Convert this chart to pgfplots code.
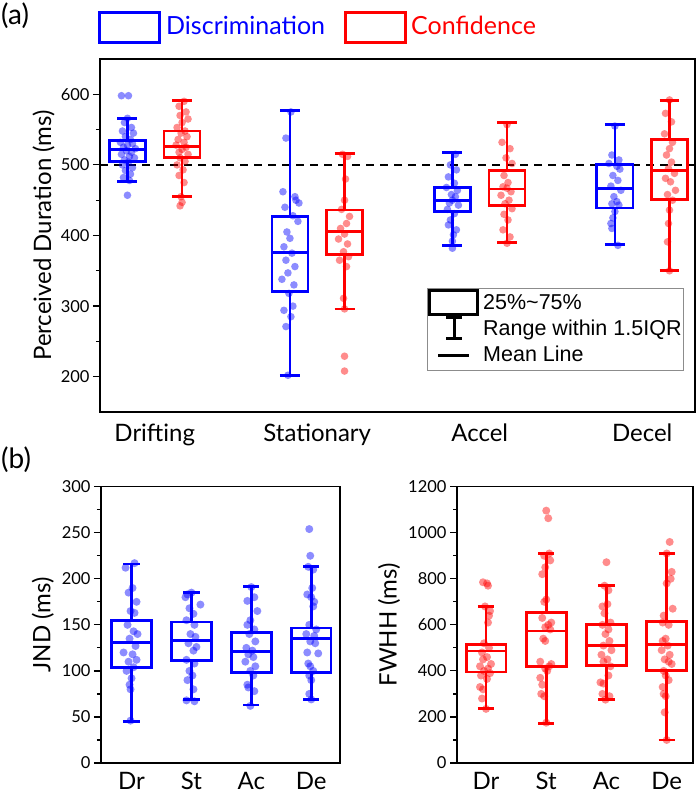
\documentclass[border=0pt]{standalone}
\usepackage{fontspec}
\setmainfont{Lato}
\newfontfamily\arialfont{Liberation Sans}
\usepackage{pgfplots}
\pgfplotsset{compat=1.18}
\definecolor{cb}{RGB}{0,0,255}
\definecolor{cr}{RGB}{255,0,0}
\pgfplotsset{
  base/.style={
    scale only axis,
    axis line style={line width=1.3pt, black},
    tick style={line width=1.2pt, black},
    tick align=outside,
    major tick length=7pt,
    minor tick length=4pt,
    ytick pos=left,
    xtick pos=bottom,
    major x tick style={draw=none},
    /pgf/number format/assume math mode=true,
    /pgf/number format/1000 sep={},
    yticklabel style={font=\fontsize{16.5}{19}\selectfont},
    xticklabel style={font=\fontsize{24}{28}\selectfont, anchor=base, inner ysep=0pt, yshift=-22.7pt},
    minor y tick num=1,
  },
  lowlab/.style={xticklabel style={yshift=3.2pt}},
  bdot/.style={only marks, mark=*, mark size=#1, mark options={draw=cb, fill=cb, fill opacity=0.45, draw opacity=0}},
  rdot/.style={only marks, mark=*, mark size=#1, mark options={draw=cr, fill=cr, fill opacity=0.45, draw opacity=0}},
  bl/.style={draw=#1, line width=2.8pt, mark=none},
}
% #1 style, #2 centre, #3 px per unit, #4 data
\newcommand{\jit}[4]{\addplot[#1] table[row sep=\\, x expr=#2+\thisrow{j}/#3, y=v] {#4};}
% box: #1 colour, #2 left, #3 right, #4 lq, #5 median, #6 uq
\newcommand{\boxm}[6]{%
  \addplot[bl=#1, line cap=rect] coordinates {(#2,#4) (#3,#4) (#3,#6) (#2,#6) (#2,#4)};
  \addplot[bl=#1] coordinates {(#2,#5) (#3,#5)};}
% whiskers: #1 colour, #2 centre, #3 cap left, #4 cap right, #5 lw, #6 lq, #7 uq, #8 uw
\newcommand{\whm}[8]{%
  \addplot[bl=#1] coordinates {(#2,#6) (#2,#5)};
  \addplot[bl=#1] coordinates {(#2,#7) (#2,#8)};
  \addplot[bl=#1] coordinates {(#3,#5) (#4,#5)};
  \addplot[bl=#1] coordinates {(#3,#8) (#4,#8)};}
\begin{document}
\begin{tikzpicture}
\path[use as bounding box] (0pt,0pt) rectangle (700pt,796pt);

% ---------------- panel (a)
\begin{axis}[base, at={(100pt,384pt)}, anchor=south west, width=595pt, height=353pt,
  xmin=0.663, xmax=4.325, ymin=150, ymax=650,
  ytick={200,300,400,500,600},
  xtick={1,2,3,4}, xticklabels={Drifting,Stationary,Accel,Decel},
  ylabel={Perceived Duration (ms)},
  every axis y label/.style={at={(axis description cs:-0.095,0.5)}, rotate=90, anchor=center, font=\fontsize{24}{28}\selectfont},
]
\addplot[black, line width=1.8pt, dash pattern=on 8pt off 6pt] coordinates {(0.663,500) (4.325,500)};
\jit{bdot=3.8pt}{0.832}{162.5}{j v\\ -6 598\\ 1 598\\ 0 566\\ -3 560\\ 4 553\\ -5 548\\ 6 545\\ -2 540\\ 3 536\\ -7 532\\ 5 530\\ 0 528\\ -4 525\\ 8 523\\ -1 520\\ 4 518\\ -6 515\\ 2 512\\ 7 510\\ -3 507\\ 1 504\\ -5 500\\ 5 496\\ -2 492\\ 3 487\\ -4 482\\ 2 478\\ 0 457\\}
\jit{rdot=3.8pt}{1.168}{162.5}{j v\\ 2 590\\ -3 583\\ 4 575\\ -2 570\\ 6 565\\ 0 560\\ -5 553\\ 3 548\\ -1 545\\ 5 540\\ -4 536\\ 2 532\\ -6 528\\ 4 525\\ 0 522\\ -3 518\\ 6 515\\ -2 510\\ 3 505\\ -5 500\\ 1 493\\ -3 485\\ 2 475\\ -1 455\\ 0 447\\ -2 442\\}
\jit{bdot=3.8pt}{1.832}{162.5}{j v\\ 1 575\\ -4 538\\ -7 462\\ 5 455\\ 6 450\\ 9 446\\ -5 440\\ 3 428\\ 8 420\\ -3 405\\ 0 396\\ -6 384\\ 2 375\\ -4 365\\ 5 356\\ -2 347\\ -8 338\\ 4 330\\ -1 318\\ 3 300\\ -6 294\\ 1 285\\ -4 271\\ -2 202\\}
\jit{rdot=3.8pt}{2.168}{162.5}{j v\\ -2 515\\ 3 512\\ 1 480\\ 0 450\\ -3 437\\ 5 427\\ 2 417\\ -4 410\\ 0 402\\ -6 395\\ 3 388\\ -1 377\\ 4 370\\ -5 365\\ 2 356\\ -1 311\\ 0 296\\ 0 229\\ 0 208\\}
\jit{bdot=3.8pt}{2.832}{162.5}{j v\\ 3 515\\ -2 500\\ 4 493\\ -4 483\\ 2 474\\ -6 468\\ 5 464\\ -1 458\\ 3 455\\ 0 450\\ -3 446\\ 6 443\\ -5 437\\ 2 431\\ -2 422\\ -4 415\\ 4 408\\ 1 401\\ 0 392\\ 0 382\\}
\jit{rdot=3.8pt}{3.168}{162.5}{j v\\ 0 557\\ -5 532\\ 3 523\\ -1 510\\ 5 502\\ -3 485\\ 1 475\\ -4 469\\ 0 467\\ 4 462\\ -6 457\\ 2 450\\ -2 445\\ 5 438\\ -3 430\\ 1 422\\ -4 408\\ 3 398\\ 0 389\\}
\jit{bdot=3.8pt}{3.832}{162.5}{j v\\ 0 555\\ -3 514\\ 4 507\\ -6 502\\ 2 498\\ 5 494\\ -2 485\\ 3 478\\ -4 470\\ 6 464\\ -1 455\\ 2 448\\ -3 445\\ 4 443\\ 0 434\\ -2 425\\ -4 417\\ -3 410\\ 3 386\\}
\jit{rdot=3.8pt}{4.168}{162.5}{j v\\ 0 592\\ -4 573\\ 2 561\\ -5 544\\ 3 532\\ 0 523\\ -3 514\\ 2 504\\ -1 495\\ 5 488\\ -4 481\\ 1 476\\ 6 464\\ -2 458\\ 3 450\\ 0 436\\ -1 417\\ -2 391\\ 0 350\\}
\boxm{cb}{0.721}{0.943}{505}{522}{535}
\whm{cb}{0.832}{0.7705}{0.8935}{476}{505}{535}{566}
\boxm{cr}{1.057}{1.279}{510}{526}{548}
\whm{cr}{1.168}{1.1065}{1.2295}{455}{510}{548}{591}
\boxm{cb}{1.721}{1.943}{321}{376}{427}
\whm{cb}{1.832}{1.7705}{1.8935}{202}{321}{427}{577}
\boxm{cr}{2.057}{2.279}{373}{406}{436}
\whm{cr}{2.168}{2.1065}{2.2295}{296}{373}{436}{516}
\boxm{cb}{2.721}{2.943}{434}{450}{468}
\whm{cb}{2.832}{2.7705}{2.8935}{386}{434}{468}{518}
\boxm{cr}{3.057}{3.279}{443}{466}{491.5}
\whm{cr}{3.168}{3.1065}{3.2295}{390}{443}{491.5}{560}
\boxm{cb}{3.721}{3.943}{439}{467}{500}
\whm{cb}{3.832}{3.7705}{3.8935}{387}{439}{500}{557}
\boxm{cr}{4.057}{4.279}{451.5}{491.5}{536}
\whm{cr}{4.168}{4.1065}{4.2295}{350}{451.5}{536}{591}
\end{axis}

% ---------------- panel (b) left
\begin{axis}[base, lowlab, at={(101pt,33pt)}, anchor=south west, width=239pt, height=276.3pt,
  xmin=0.49, xmax=4.48, ymin=0, ymax=300,
  ytick={0,50,...,300},
  xtick={1,2,3,4}, xticklabels={Dr,St,Ac,De},
  ylabel={JND (ms)},
  every axis y label/.style={at={(axis description cs:-0.243,0.5)}, rotate=90, anchor=center, font=\fontsize{24}{28}\selectfont},
]
\jit{bdot=4pt}{1}{60}{j v\\ 3 217\\ -6 212\\ 1 190\\ -3 185\\ 5 175\\ -1 165\\ 3 163\\ -4 150\\ 2 143\\ 6 140\\ -2 135\\ 4 127\\ -8 120\\ 1 118\\ 5 112\\ -3 110\\ 2 104\\ -5 100\\ 0 92\\ -2 85\\ -1 80\\ -1 46\\}
\jit{bdot=4pt}{2}{60}{j v\\ 0 185\\ -4 183\\ -6 180\\ 9 172\\ -2 168\\ 2 162\\ -5 155\\ 3 150\\ -1 140\\ 4 137\\ -3 130\\ 5 126\\ 2 122\\ -5 112\\ 3 108\\ -2 100\\ 1 95\\ -4 90\\ 2 80\\ -5 68\\ 3 67\\}
\jit{bdot=4pt}{3}{60}{j v\\ 0 191\\ 3 180\\ -4 176\\ 6 165\\ -1 155\\ -4 150\\ 3 145\\ -2 140\\ 4 132\\ -5 125\\ 1 122\\ -3 118\\ 2 115\\ -6 110\\ 4 105\\ -1 100\\ 2 95\\ -4 85\\ -3 82\\ 3 78\\ -1 62\\}
\jit{bdot=4pt}{4}{60}{j v\\ -2 254\\ -1 225\\ -3 213\\ 2 210\\ 1 190\\ -4 183\\ 0 180\\ 3 175\\ 2 170\\ -2 150\\ 5 145\\ -5 140\\ 3 138\\ -1 132\\ 4 130\\ -4 120\\ 7 119\\ -3 108\\ -1 105\\ 2 100\\ -2 95\\ 0 90\\ -2 75\\ 0 69\\}
\boxm{cb}{0.67}{1.33}{104}{131}{155}
\whm{cb}{1}{0.865}{1.135}{45}{104}{155}{216}
\boxm{cb}{1.67}{2.33}{111}{133}{153}
\whm{cb}{2}{1.865}{2.135}{68.6}{111}{153}{185}
\boxm{cb}{2.67}{3.33}{98}{121}{142}
\whm{cb}{3}{2.865}{3.135}{63}{98}{142}{192}
\boxm{cb}{3.67}{4.33}{98}{135}{146.5}
\whm{cb}{4}{3.865}{4.135}{69}{98}{146.5}{213}
\end{axis}

% ---------------- panel (b) right
\begin{axis}[base, lowlab, at={(457pt,33pt)}, anchor=south west, width=236pt, height=276.3pt,
  xmin=0.518, xmax=4.437, ymin=0, ymax=1200,
  ytick={0,200,...,1200},
  xtick={1,2,3,4}, xticklabels={Dr,St,Ac,De},
  ylabel={FWHH (ms)},
  every axis y label/.style={at={(axis description cs:-0.288,0.5)}, rotate=90, anchor=center, font=\fontsize{24}{28}\selectfont},
]
\jit{rdot=4pt}{1}{60}{j v\\ -3 785\\ 1 780\\ 2 770\\ -1 680\\ 4 660\\ 3 640\\ 2 610\\ -2 520\\ 3 500\\ -4 480\\ 1 460\\ -3 450\\ 5 430\\ -6 420\\ 2 410\\ -2 400\\ 4 390\\ -5 380\\ 1 365\\ -6 330\\ -3 320\\ -4 280\\ 0 235\\}
\jit{rdot=4pt}{2}{60}{j v\\ 0 1096\\ 2 1063\\ 3 910\\ -2 900\\ 4 880\\ -1 850\\ -4 820\\ 0 710\\ -2 700\\ -4 630\\ 5 610\\ 2 600\\ -1 590\\ 4 580\\ -3 540\\ -1 530\\ -6 440\\ 5 430\\ 3 420\\ -1 410\\ 1 400\\ -6 370\\ -4 340\\ -5 300\\ -2 290\\ 0 175\\}
\jit{rdot=4pt}{3}{60}{j v\\ 0 872\\ -2 770\\ 2 750\\ 1 690\\ -4 680\\ -2 650\\ 4 610\\ -4 600\\ 2 580\\ -1 560\\ 3 530\\ -3 510\\ 5 490\\ -5 470\\ 1 450\\ -3 440\\ 4 420\\ 2 380\\ -6 350\\ -3 345\\ -4 300\\ 3 290\\ -1 275\\}
\jit{rdot=4pt}{4}{60}{j v\\ 3 960\\ 0 910\\ 5 830\\ 4 800\\ 0 780\\ 6 670\\ -3 640\\ -4 610\\ 2 600\\ -1 540\\ -4 530\\ 1 510\\ -5 490\\ 3 470\\ -2 450\\ 2 440\\ 5 430\\ -3 400\\ -1 380\\ 2 360\\ -4 330\\ -3 300\\ -1 290\\ -2 220\\ 0 100\\}
\boxm{cr}{0.67}{1.33}{395}{486}{515}
\whm{cr}{1}{0.865}{1.135}{237}{395}{515}{680}
\boxm{cr}{1.67}{2.33}{419}{573}{655}
\whm{cr}{2}{1.865}{2.135}{173}{419}{655}{911}
\boxm{cr}{2.67}{3.33}{422}{512}{603}
\whm{cr}{3}{2.865}{3.135}{275}{422}{603}{772}
\boxm{cr}{3.67}{4.33}{402}{513}{616}
\whm{cr}{4}{3.865}{4.135}{100}{402}{616}{911}
\end{axis}

% ---------------- decorations
\begin{scope}[x=1pt,y=1pt]
\node[anchor=north west, inner sep=0, font=\fontsize{28}{32}\selectfont] at (1,793) {(a)};
\node[anchor=north west, inner sep=0, font=\fontsize{28}{32}\selectfont] at (1,349) {(b)};
\draw[cb, line width=3pt] (99,783.3) rectangle (159,753.7);
\node[anchor=base west, inner sep=0, text=cb, font=\fontsize{25}{29}\selectfont] at (166,761) {Discrimination};
\draw[cr, line width=3pt] (345,783.3) rectangle (405,753.7);
\node[anchor=base west, inner sep=0, text=cr, font=\fontsize{25}{29}\selectfont] at (411,761) {Confidence};

\draw[black!45, line width=0.8pt] (427,508) rectangle (683,426);
\draw[black, line width=3pt] (429.5,505) rectangle (477.5,481.5);
\draw[black, line width=3pt] (454,478) -- (454,457);
\draw[black, line width=3pt] (446,478) -- (462,478);
\draw[black, line width=3pt] (446,457) -- (462,457);
\draw[black, line width=3pt] (438,440) -- (469,440);
\node[anchor=base west, inner sep=0, font=\arialfont\fontsize{21.5}{25}\selectfont] at (483,486) {25\%\textasciitilde 75\%};
\node[anchor=base west, inner sep=0, font=\arialfont\fontsize{21.5}{25}\selectfont] at (483,460) {Range within 1.5IQR};
\node[anchor=base west, inner sep=0, font=\arialfont\fontsize{21.5}{25}\selectfont] at (483,434.3) {Mean Line};
\end{scope}
\end{tikzpicture}
\end{document}
